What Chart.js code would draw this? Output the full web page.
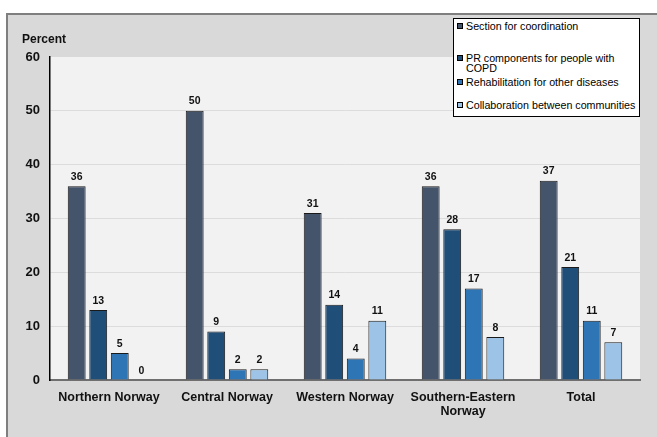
<!DOCTYPE html>
<html>
<head>
<meta charset="utf-8">
<script src="https://cdn.jsdelivr.net/npm/chart.js@4"></script>
<style>
  body { margin: 0; background: #fff; overflow: hidden; }
  #wrap { position: relative; width: 657px; height: 437px; }
  #legend {
    position: absolute; left: 453px; top: 18px; width: 187px; height: 99px;
    background: #fff; border: 1px solid #000; box-sizing: border-box;
    font: 10.7px "Liberation Sans", Arial, sans-serif; color: #000;
  }
  .item { position: absolute; left: 3px; padding-left: 9px; line-height: 10px; }
  .sq { position: absolute; left: 0px; top: 2px; width: 6px; height: 6px; border: 1px solid #000; box-sizing: border-box; }
</style>
</head>
<body>
<div id="wrap">
  <canvas id="myChart" width="657" height="437"></canvas>
  <div id="legend"></div>
</div>
<script>
//---------------DATA-------------
let regions = ["Northern Norway", "Central Norway", "Western Norway", ["Southern-Eastern", "Norway"], "Total"];
let coordination = [36, 50, 31, 36, 37];
let prComponents = [13, 9, 14, 28, 21];
let otherDiseases = [5, 2, 4, 17, 11];
let collaboration = [0, 2, 11, 8, 7];
let yTicks = [0, 10, 20, 30, 40, 50, 60];

let seriesNames = ["Section for coordination", "PR components for people with COPD",
  "Rehabilitation for other diseases", "Collaboration between communities"];
let seriesColors = ["#44546a", "#1f4e79", "#2e75b6", "#9dc3e6"];

//------------------- LEGEND (html box) --------------------
let legendTops = [2, 34, 58, 81];
let legend = document.getElementById("legend");
seriesNames.forEach((name, i) => {
  legend.innerHTML += `<div class="item" style="top:${legendTops[i]}px"><span class="sq" style="background:${seriesColors[i]}"></span>${name.replace("with COPD", "with<br>COPD")}</div>`;
});

//------------------- PLUGINS --------------------
// grey frame + light plot background
const frame = {
  id: "frame",
  beforeDraw(chart) {
    let c = chart.ctx, a = chart.chartArea;
    c.save();
    c.fillStyle = "#fff";
    c.fillRect(0, 0, chart.width, chart.height);
    c.fillStyle = "#d9d9d9";
    c.fillRect(6, 13, chart.width - 6, chart.height - 13);
    c.strokeStyle = "#7f7f7f";
    c.lineWidth = 2;
    c.beginPath();
    c.moveTo(7, chart.height);
    c.lineTo(7, 14);
    c.lineTo(chart.width, 14);
    c.stroke();
    c.fillStyle = "#f2f2f2";
    c.fillRect(a.left, a.top, a.right - a.left, a.bottom - a.top);
    c.fillStyle = "#111";
    c.font = "bold 12px 'Liberation Sans', Arial, sans-serif";
    c.textBaseline = "middle";
    c.fillText("Percent", 22, 40);
    c.restore();
  }
};

// value labels above every bar
const barValues = {
  id: "barValues",
  afterDatasetsDraw(chart) {
    let c = chart.ctx;
    c.save();
    c.fillStyle = "#111";
    c.font = "bold 10.5px 'Liberation Sans', Arial, sans-serif";
    c.textAlign = "center";
    c.textBaseline = "bottom";
    chart.data.datasets.forEach((ds, i) => {
      chart.getDatasetMeta(i).data.forEach((bar, j) => {
        c.fillText(ds.data[j], bar.x, bar.y - 4);
      });
    });
    c.restore();
  }
};

//------------------- CHART --------------------
let ctx = document.getElementById("myChart").getContext("2d");
let myChart = new Chart(ctx, {
  type: "bar",
  data: {
    labels: regions,
    datasets: [coordination, prComponents, otherDiseases, collaboration].map((d, i) => ({
      label: seriesNames[i],
      data: d,
      backgroundColor: seriesColors[i],
      borderColor: "#1a1a1a",
      borderWidth: 1,
      categoryPercentage: 0.73,
      barPercentage: 0.83,
    })),
  },
  options: {
    responsive: false,
    animation: false,
    layout: { padding: { left: 6, right: 17, top: 57, bottom: 0 } },
    plugins: { legend: { display: false }, tooltip: { enabled: false } },
    scales: {
      x: {
        grid: { display: false },
        border: { color: "#6f6f6f", width: 2 },
        ticks: {
          color: "#111", padding: 2, maxRotation: 0,
          font: { family: "'Liberation Sans', Arial, sans-serif", size: 12.5, weight: "bold", lineHeight: 1.15 },
        },
        afterFit: (s) => { s.height = 57; },
      },
      y: {
        min: 0, max: 60,
        afterBuildTicks: (s) => { s.ticks = yTicks.map((v) => ({ value: v })); },
        grid: { color: (c) => (c.tick && (c.tick.value === 0 || c.tick.value === 60) ? "rgba(0,0,0,0)" : "#dcdcdc"), drawTicks: false },
        border: { color: "#000", width: 1.5 },
        ticks: {
          color: "#111", padding: 10,
          font: { family: "'Liberation Sans', Arial, sans-serif", size: 13, weight: "bold" },
        },
        afterFit: (s) => { s.width = 44; },
      },
    },
  },
  plugins: [frame, barValues],
});
</script>
</body>
</html>
